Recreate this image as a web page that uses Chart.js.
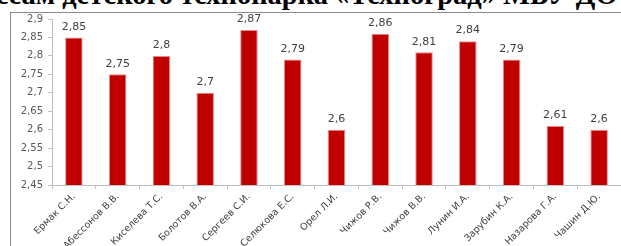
<!DOCTYPE html>
<html>
<head>
<meta charset="utf-8">
<script src="https://cdn.jsdelivr.net/npm/chart.js@4/dist/chart.umd.min.js"></script>
<style>
  html, body { margin: 0; padding: 0; background: #fff; }
  body { width: 621px; height: 246px; position: relative; overflow: hidden; }
  #title {
    position: absolute; left: 0; top: -19px; white-space: nowrap;
    font-family: "Liberation Serif", "DejaVu Serif", serif; font-weight: bold;
    font-size: 28.5px; line-height: 28px; color: #000;
  }
  #frame {
    position: absolute; left: 10px; top: 12px; width: 700px; height: 300px;
    border-left: 1px solid #8c8c8c; border-top: 1px solid #8c8c8c;
  }
  #wrap { position: absolute; left: 0; top: 0; width: 621px; height: 246px; }
</style>
</head>
<body>
<div id="title">по процессам <span id="titleRest">детского технопарка «Техноград» МБУ ДО</span></div>
<div id="frame"></div>
<div id="wrap"><canvas id="chart"></canvas></div>
<script>
const teachers = ["Ермак С.Н.", "Абессонов В.В.", "Киселева Т.С.", "Болотов В.А.", "Сергеев С.И.",
  "Селюкова Е.С.", "Орел Л.И.", "Чижов Р.В.", "Чижов В.В.", "Лунин И.А.", "Зарубин К.А.",
  "Назарова Г.А.", "Чашин Д.Ю."];
const scores = [2.85, 2.75, 2.8, 2.7, 2.87, 2.79, 2.6, 2.86, 2.81, 2.84, 2.79, 2.61, 2.6];
const yTicks = [2.45, 2.5, 2.55, 2.6, 2.65, 2.7, 2.75, 2.8, 2.85, 2.9];

// the title is cut off on the left: shift it so "детского" starts at x=62
const title = document.getElementById("title");
title.style.left = (62 - document.getElementById("titleRest").offsetLeft) + "px";

function comma(v) {
  return String(Math.round(v * 100) / 100).replace(".", ",");
}

// value labels above the bars
const barLabels = {
  id: "barLabels",
  afterDatasetsDraw(chart) {
    const ctx = chart.ctx;
    ctx.save();
    ctx.font = "11px 'DejaVu Sans', sans-serif";
    ctx.fillStyle = "#404040";
    ctx.textAlign = "center";
    ctx.textBaseline = "bottom";
    chart.getDatasetMeta(0).data.forEach((bar, i) => {
      ctx.fillText(comma(scores[i]), bar.x, bar.y - 5);
    });
    ctx.restore();
  }
};

new Chart(document.getElementById("chart"), {
  type: "bar",
  data: {
    labels: teachers,
    datasets: [{
      data: scores,
      backgroundColor: "#c00000",
      borderColor: "#e58a8a",
      borderWidth: 1,
      barPercentage: 0.4,
      categoryPercentage: 1
    }]
  },
  options: {
    responsive: true,
    maintainAspectRatio: false,
    animation: false,
    layout: { padding: { left: 14, top: 19, right: 0, bottom: 0 } },
    plugins: { legend: { display: false }, tooltip: { enabled: false } },
    scales: {
      y: {
        min: 2.45,
        max: 2.9,
        afterBuildTicks(scale) { scale.ticks = yTicks.map(v => ({ value: v })); },
        afterFit(scale) { scale.width = 38; },
        border: { color: "#bfbfbf" },
        grid: { drawOnChartArea: false, tickLength: 4, color: "#bfbfbf" },
        ticks: {
          color: "#595959",
          font: { family: "'DejaVu Sans', sans-serif", size: 10 },
          padding: 5,
          callback: v => comma(v)
        }
      },
      x: {
        offset: true,
        afterFit(scale) { scale.height = 61; },
        border: { color: "#bfbfbf" },
        grid: { drawOnChartArea: false, offset: true, tickLength: 4, color: "#bfbfbf" },
        ticks: {
          color: "#404040",
          font: { family: "'DejaVu Sans', sans-serif", size: 9.5 },
          minRotation: 45,
          maxRotation: 45,
          autoSkip: false,
          padding: 2
        }
      }
    }
  },
  plugins: [barLabels]
});
</script>
</body>
</html>
